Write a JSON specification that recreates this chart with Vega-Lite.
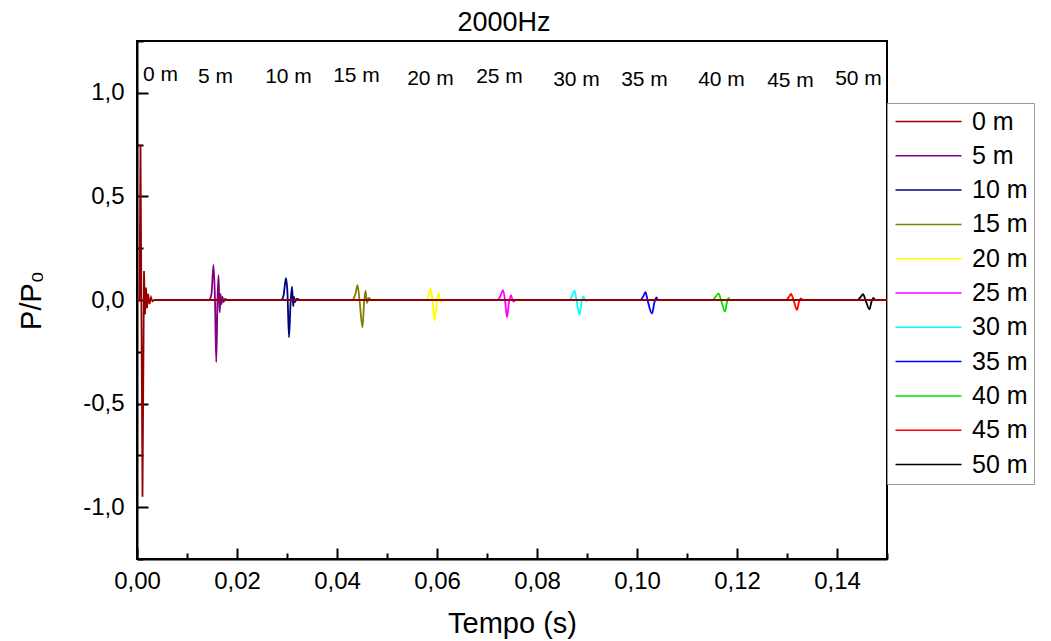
{
  "$schema": "https://vega.github.io/schema/vega-lite/v6.json",
  "width": 750,
  "height": 518,
  "autosize": {"type": "none"},
  "padding": {"left": 137, "top": 41, "right": 164, "bottom": 82},
  "background": "white",
  "title": {"text": "2000Hz", "fontSize": 27, "font": "Liberation Sans", "fontWeight": "normal", "color": "black", "offset": 10, "dy": 18, "dx": -8, "anchor": "middle", "frame": "group"},
  "config": {
    "view": {"stroke": "black", "strokeWidth": 2},
    "axis": {"labelFont": "Liberation Sans", "labelFontSize": 24, "labelColor": "black", "domainColor": "black", "domainWidth": 2, "tickColor": "black", "tickWidth": 2, "grid": false, "titleFont": "Liberation Sans", "titleFontSize": 29, "titleFontWeight": "normal", "titleColor": "black", "labelOverlap": false, "labelBound": false, "labelFlush": false},
    "legend": {"orient": "none", "legendX": 750, "legendY": 62, "strokeColor": "#999999", "fillColor": "white", "padding": 6, "symbolType": "M-3,0H3", "symbolSize": 484, "symbolStrokeWidth": 1.5, "symbolOffset": 23, "labelOffset": 31, "labelFont": "Liberation Sans", "labelFontSize": 25, "labelColor": "black", "rowPadding": 8.3, "title": null}
  },
  "datasets": {
    "waves": [
      {"t": 0, "p": 0, "s": "0 m"}, {"t": 0.0005, "p": 0, "s": "0 m"}, {"t": 0.0007, "p": 0.75, "s": "0 m"}, {"t": 0.0011, "p": -0.95, "s": "0 m"}, {"t": 0.0014, "p": 0.14, "s": "0 m"}, {"t": 0.0016, "p": -0.07, "s": "0 m"}, {"t": 0.0018, "p": 0.06, "s": "0 m"}, {"t": 0.002, "p": -0.04, "s": "0 m"}, {"t": 0.0022, "p": 0.03, "s": "0 m"}, {"t": 0.0025, "p": -0.02, "s": "0 m"}, {"t": 0.0028, "p": 0.012, "s": "0 m"}, {"t": 0.0031, "p": -0.006, "s": "0 m"}, {"t": 0.0035, "p": 0, "s": "0 m"}, {"t": 0.15, "p": 0, "s": "0 m"},
      {"t": 0.0145, "p": 0, "s": "5 m"}, {"t": 0.0149, "p": 0.03, "s": "5 m"}, {"t": 0.0153, "p": 0.17, "s": "5 m"}, {"t": 0.0156, "p": 0.0, "s": "5 m"}, {"t": 0.01585, "p": -0.3, "s": "5 m"}, {"t": 0.0161, "p": 0.0, "s": "5 m"}, {"t": 0.0163, "p": 0.12, "s": "5 m"}, {"t": 0.01645, "p": 0.0, "s": "5 m"}, {"t": 0.01655, "p": -0.06, "s": "5 m"}, {"t": 0.0167, "p": 0.03, "s": "5 m"}, {"t": 0.0169, "p": -0.02, "s": "5 m"}, {"t": 0.0171, "p": 0.015, "s": "5 m"}, {"t": 0.0173, "p": -0.01, "s": "5 m"}, {"t": 0.0176, "p": 0.005, "s": "5 m"}, {"t": 0.018, "p": 0, "s": "5 m"},
      {"t": 0.0289, "p": 0, "s": "10 m"}, {"t": 0.0293, "p": 0.02, "s": "10 m"}, {"t": 0.0298, "p": 0.105, "s": "10 m"}, {"t": 0.0301, "p": 0.03, "s": "10 m"}, {"t": 0.0304, "p": -0.18, "s": "10 m"}, {"t": 0.0307, "p": -0.02, "s": "10 m"}, {"t": 0.031, "p": 0.065, "s": "10 m"}, {"t": 0.03125, "p": -0.03, "s": "10 m"}, {"t": 0.0314, "p": 0.015, "s": "10 m"}, {"t": 0.0316, "p": -0.01, "s": "10 m"}, {"t": 0.0319, "p": 0.005, "s": "10 m"}, {"t": 0.0326, "p": 0, "s": "10 m"},
      {"t": 0.0432, "p": 0, "s": "15 m"}, {"t": 0.0437, "p": 0.03, "s": "15 m"}, {"t": 0.0441, "p": 0.072, "s": "15 m"}, {"t": 0.0445, "p": 0.0, "s": "15 m"}, {"t": 0.0451, "p": -0.132, "s": "15 m"}, {"t": 0.0454, "p": -0.02, "s": "15 m"}, {"t": 0.0457, "p": 0.045, "s": "15 m"}, {"t": 0.046, "p": -0.015, "s": "15 m"}, {"t": 0.0463, "p": 0.01, "s": "15 m"}, {"t": 0.0468, "p": 0, "s": "15 m"},
      {"t": 0.0579, "p": 0, "s": "20 m"}, {"t": 0.0583, "p": 0.02, "s": "20 m"}, {"t": 0.0587, "p": 0.056, "s": "20 m"}, {"t": 0.0591, "p": 0.0, "s": "20 m"}, {"t": 0.0595, "p": -0.1, "s": "20 m"}, {"t": 0.0599, "p": -0.02, "s": "20 m"}, {"t": 0.0603, "p": 0.032, "s": "20 m"}, {"t": 0.0606, "p": 0.0, "s": "20 m"}, {"t": 0.0608, "p": -0.01, "s": "20 m"}, {"t": 0.0612, "p": 0, "s": "20 m"},
      {"t": 0.0722, "p": 0, "s": "25 m"}, {"t": 0.0727, "p": 0.02, "s": "25 m"}, {"t": 0.0732, "p": 0.048, "s": "25 m"}, {"t": 0.0736, "p": 0.0, "s": "25 m"}, {"t": 0.074, "p": -0.083, "s": "25 m"}, {"t": 0.0744, "p": -0.01, "s": "25 m"}, {"t": 0.0748, "p": 0.024, "s": "25 m"}, {"t": 0.0751, "p": 0.0, "s": "25 m"}, {"t": 0.0753, "p": -0.008, "s": "25 m"}, {"t": 0.0757, "p": 0, "s": "25 m"},
      {"t": 0.0866, "p": 0, "s": "30 m"}, {"t": 0.087, "p": 0.02, "s": "30 m"}, {"t": 0.0875, "p": 0.045, "s": "30 m"}, {"t": 0.0879, "p": 0.0, "s": "30 m"}, {"t": 0.0885, "p": -0.072, "s": "30 m"}, {"t": 0.0889, "p": -0.01, "s": "30 m"}, {"t": 0.0893, "p": 0.016, "s": "30 m"}, {"t": 0.0896, "p": 0.0, "s": "30 m"}, {"t": 0.0898, "p": -0.005, "s": "30 m"}, {"t": 0.0901, "p": 0, "s": "30 m"},
      {"t": 0.1008, "p": 0, "s": "35 m"}, {"t": 0.1013, "p": 0.02, "s": "35 m"}, {"t": 0.1017, "p": 0.038, "s": "35 m"}, {"t": 0.1021, "p": 0.0, "s": "35 m"}, {"t": 0.103, "p": -0.065, "s": "35 m"}, {"t": 0.1035, "p": -0.01, "s": "35 m"}, {"t": 0.1039, "p": 0.012, "s": "35 m"}, {"t": 0.1042, "p": 0.0, "s": "35 m"}, {"t": 0.1046, "p": 0, "s": "35 m"},
      {"t": 0.1152, "p": 0, "s": "40 m"}, {"t": 0.1158, "p": 0.018, "s": "40 m"}, {"t": 0.1163, "p": 0.032, "s": "40 m"}, {"t": 0.1168, "p": 0.0, "s": "40 m"}, {"t": 0.1176, "p": -0.056, "s": "40 m"}, {"t": 0.118, "p": -0.01, "s": "40 m"}, {"t": 0.1183, "p": 0.01, "s": "40 m"}, {"t": 0.1186, "p": 0.0, "s": "40 m"}, {"t": 0.119, "p": 0, "s": "40 m"},
      {"t": 0.1299, "p": 0, "s": "45 m"}, {"t": 0.1304, "p": 0.015, "s": "45 m"}, {"t": 0.1308, "p": 0.029, "s": "45 m"}, {"t": 0.1313, "p": 0.0, "s": "45 m"}, {"t": 0.132, "p": -0.048, "s": "45 m"}, {"t": 0.1324, "p": -0.008, "s": "45 m"}, {"t": 0.1328, "p": 0.008, "s": "45 m"}, {"t": 0.1331, "p": 0.0, "s": "45 m"}, {"t": 0.1336, "p": 0, "s": "45 m"},
      {"t": 0.1442, "p": 0, "s": "50 m"}, {"t": 0.1447, "p": 0.014, "s": "50 m"}, {"t": 0.1452, "p": 0.028, "s": "50 m"}, {"t": 0.1457, "p": 0.0, "s": "50 m"}, {"t": 0.1465, "p": -0.045, "s": "50 m"}, {"t": 0.1469, "p": -0.008, "s": "50 m"}, {"t": 0.1473, "p": 0.01, "s": "50 m"}, {"t": 0.1476, "p": 0.0, "s": "50 m"}, {"t": 0.1481, "p": 0, "s": "50 m"}
    ],
    "tags": [
      {"t": 0.0047, "p": 1.084, "label": "0 m"},
      {"t": 0.0157, "p": 1.075, "label": "5 m"},
      {"t": 0.0303, "p": 1.075, "label": "10 m"},
      {"t": 0.0439, "p": 1.08, "label": "15 m"},
      {"t": 0.0587, "p": 1.065, "label": "20 m"},
      {"t": 0.0725, "p": 1.075, "label": "25 m"},
      {"t": 0.0879, "p": 1.06, "label": "30 m"},
      {"t": 0.1015, "p": 1.06, "label": "35 m"},
      {"t": 0.1169, "p": 1.06, "label": "40 m"},
      {"t": 0.1307, "p": 1.055, "label": "45 m"},
      {"t": 0.1443, "p": 1.065, "label": "50 m"}
    ]
  },
  "encoding": {
    "x": {"field": "t", "type": "quantitative", "scale": {"domain": [0, 0.15], "nice": false, "zero": false},
      "axis": {"title": "Tempo (s)", "values": [0, 0.01, 0.02, 0.03, 0.04, 0.05, 0.06, 0.07, 0.08, 0.09, 0.1, 0.11, 0.12, 0.13, 0.14, 0.15],
        "labelExpr": "round(datum.value*100) % 2 == 0 ? replace(format(datum.value, '.2f'), '.', ',') : ''",
        "tickSize": {"condition": {"test": "round(datum.value*100) % 2 == 0", "value": -11}, "value": -6},
        "labelPadding": 21, "titleX": 375, "titleY": 73, "titleBaseline": "alphabetic", "titleAnchor": "middle"}},
    "y": {"field": "p", "type": "quantitative", "scale": {"domain": [-1.25, 1.25], "nice": false, "zero": false},
      "axis": {"title": "P/P₀", "values": [-1.25, -1, -0.75, -0.5, -0.25, 0, 0.25, 0.5, 0.75, 1, 1.25],
        "labelExpr": "abs(datum.value*2 - round(datum.value*2)) < 0.000001 ? replace(replace(format(datum.value, '.1f'), '.', ','), '\u2212', '-') : ''",
        "tickSize": {"condition": {"test": "abs(datum.value*2 - round(datum.value*2)) < 0.000001", "value": -11}, "value": -6},
        "labelPadding": 24, "titleX": -106, "titleY": 259, "titleAngle": -90, "titleAlign": "center", "titleBaseline": "middle"}}
  },
  "layer": [
    {
      "data": {"name": "waves"},
      "transform": [{"filter": "datum.s != '0 m'"}],
      "mark": {"type": "line", "strokeWidth": 1.8, "interpolate": "monotone"},
      "encoding": {"color": {"field": "s", "type": "nominal", "scale": {"domain": ["0 m", "5 m", "10 m", "15 m", "20 m", "25 m", "30 m", "35 m", "40 m", "45 m", "50 m"], "range": ["#960000", "#800080", "#000080", "#808000", "#ffff00", "#ff00ff", "#00ffff", "#0000ff", "#00e000", "#ff0000", "#000000"]}}}
    },
    {
      "data": {"name": "waves"},
      "transform": [{"filter": "datum.s == '0 m'"}],
      "mark": {"type": "line", "strokeWidth": 1.8},
      "encoding": {"color": {"field": "s", "type": "nominal"}}
    },
    {
      "data": {"name": "tags"},
      "mark": {"type": "text", "font": "Liberation Sans", "fontSize": 21, "color": "black", "baseline": "middle", "align": "center"},
      "encoding": {"text": {"field": "label", "type": "nominal"}}
    }
  ]
}
